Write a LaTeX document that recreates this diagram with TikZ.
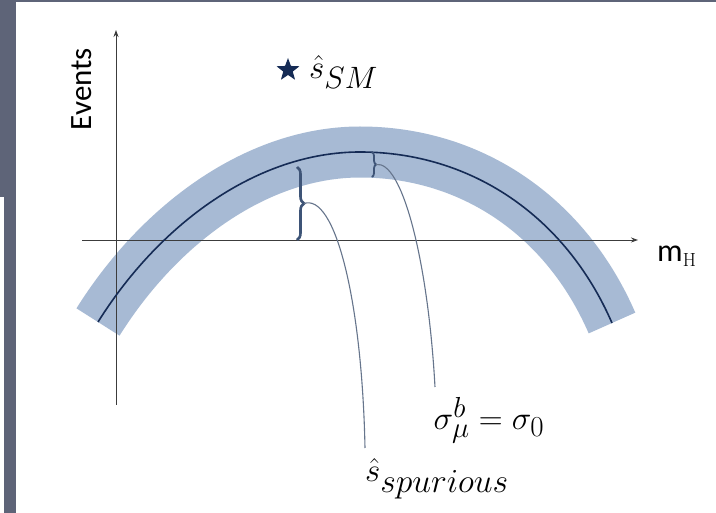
\documentclass[tikz,border=0pt]{standalone}
\usepackage{fontspec}
\newfontfamily\calib{Carlito}
\usetikzlibrary{arrows.meta,decorations.pathreplacing,shapes.geometric}
\definecolor{slidegray}{HTML}{5E6478}
\definecolor{bandblue}{HTML}{A7BAD4}
\definecolor{curvenavy}{HTML}{152B55}
\definecolor{bracegray}{HTML}{3E5477}
\definecolor{leadgray}{HTML}{66758C}
\definecolor{axisgray}{HTML}{3C3C3C}
\newcommand{\massarc}{(98,322) .. controls (160,223) and (258,152) .. (360,152)
    .. controls (470,152) and (565,215) .. (612,323)}
\newcommand{\bigmath}[1]{\scalebox{1.33}{\Huge$#1$}}
\newcommand{\subsc}[2]{\scalebox{#1}{$\scriptstyle #2$}}

\begin{document}
\begin{tikzpicture}[
    x=1pt,y=-1pt,
    axis/.style    = {axisgray, line width=0.9pt, -{Stealth[length=7pt,width=5pt]}},
    band/.style    = {bandblue, line width=51pt},
    fitline/.style = {curvenavy, line width=1.6pt},
    bracket/.style = {bracegray, line width=2.6pt, decorate},
    leader/.style  = {leadgray, line width=1.1pt},
    mathlbl/.style = {inner sep=0pt},
  ]

  % slide frame
  \useasboundingbox (0,0) rectangle (716,513);
  \fill[white] (0,0) rectangle (716,513);
  \fill[slidegray] (0,0) rectangle (716,2);
  \fill[slidegray] (0,0) rectangle (16,197);
  \fill[slidegray] (4,197) rectangle (16,513);

  % uncertainty band and fitted curve
  \draw[band] \massarc;

  \coordinate (ybot) at (116,405);
  \coordinate (ytop) at (116,30);
  \coordinate (xlft) at (82,240);
  \coordinate (xrgt) at (638,240);
  \draw[axis] (ybot) -- (ytop);
  \draw[axis] (xlft) -- (xrgt);

  \draw[fitline] \massarc;

  \node[font=\calib\fontsize{31}{36}\selectfont, rotate=90] (evlbl) at (82,89) {Events};
  \node[anchor=base west, inner sep=0pt] (mhlbl) at (657,262)
       {{\calib\fontsize{32}{38}\selectfont m}\raisebox{-5pt}{\fontsize{19}{22}\selectfont\rmfamily H}};

  \node[star, star points=5, star point ratio=2.4, fill=curvenavy,
        minimum size=24pt, inner sep=0pt] (smstar) at (288,70) {};
  \node[mathlbl, anchor=west] (smlbl) at (309,72) {\bigmath{\hat{s}_{\subsc{1.12}{SM}}}};

  % braces
  \coordinate (spurtop) at (297,167);
  \coordinate (spurbot) at (297,240);
  \coordinate (sigtop) at (372,152);
  \coordinate (sigbot) at (372,177);
  \draw[bracket, decoration={brace, amplitude=7pt}] (spurtop) -- (spurbot);
  \draw[bracket, line width=1.8pt, decoration={brace, amplitude=4pt}] (sigtop) -- (sigbot);
  \coordinate (spurtip) at (304,203.5);
  \coordinate (sigtip) at (376,164.5);

  \node[mathlbl] (siglbl) at (489,420)
       {\bigmath{\sigma^{\subsc{1.05}{b}}_{\subsc{1.05}{\mu}} = \sigma_{\subsc{1.05}{0}}}};
  \node[mathlbl] (spurlbl) at (437,479) {\bigmath{\hat{s}_{\subsc{1.22}{spurious}}}};
  \coordinate (sigend) at (435,387);
  \coordinate (spurend) at (365,448);

  \draw[leader] (spurtip) .. controls (335,193) and (362,300) .. (spurend);
  \draw[leader] (sigtip) .. controls (402,160) and (428,260) .. (sigend);

\end{tikzpicture}
\end{document}
